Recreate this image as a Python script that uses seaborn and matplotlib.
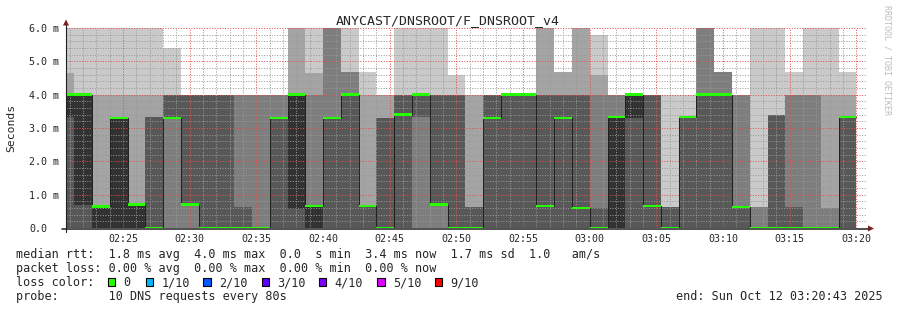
import matplotlib
matplotlib.use("Agg")
import matplotlib.pyplot as plt
import matplotlib.ticker as mticker
import matplotlib.transforms as mtransforms
from matplotlib.patches import Rectangle, Polygon
from matplotlib.lines import Line2D
import numpy as np
import pandas as pd
import seaborn as sns

# ---------------- data ----------------
title = "ANYCAST/DNSROOT/F_DNSROOT_v4"
y_label = "Seconds"
watermark = "RRDTOOL / TOBI OETIKER"

step_seconds = 80
first_step = "02:20:00"
view_start = "02:20:43"
view_end = "03:20:43"

# ranked ping times (ms) per 80 s step, p01 = fastest ... p10 = slowest
p01 = [0, 0, 0, 0, 0, 0, 0, 0, 0, 0, 0, 0, 0, 0, 0, 0, 0, 0, 0, 0, 0, 0, 0, 0, 0, 0, 0, 0, 0, 0,
       0, 0, 0, 0, 0, 0, 0, 0, 0, 0, 0, 0, 0, 0, 0]
p02 = [0, 0, 0, 0, 0, 0, 0, 0, 0, 0, 0, 0, 0, 0, 0, 0, 0, 0, 0, 0, 0, 0, 0, 0, 0, 0, 0, 0, 0, 0,
       0, 0, 0, 0, 0, 0, 0, 0, 0, 0, 0, 0, 0, 0, 0]
p03 = [0, 0, 0, 0, 0, 0, 0, 0, 0, 0, 0, 0, 0, 0, 0, 0, 0, 0, 0, 0, 0, 0, 0, 0, 0, 0, 0, 0, 0, 0,
       0, 0, 0, 0, 0, 0, 0, 0, 0, 0, 0, 0, 0, 0, 0]
p04 = [0, 0, 0, 0, 0, 0, 3.3, 0.7, 0, 0, 0, 0, 0, 0, 0, 0, 0, 0, 0, 0, 3.33, 0.7, 0, 0, 0, 0, 0, 0, 0, 0,
       0, 0, 0, 0, 0, 0, 0, 0, 0, 0, 0, 0, 0, 0, 0]
p05 = [3.33, 0.7, 0, 0, 0, 0, 3.3, 0.7, 0, 0, 0, 0, 3.3, 0.58, 0, 3.3, 4.0, 0.66, 0, 3.4,
       4.0, 0.7, 0, 0, 3.3, 4.0, 4.0, 0.66, 3.3, 0.6, 0, 0, 3.3, 0.66, 0, 3.33, 4.0, 4.0, 0.63, 0,
       0, 0, 0, 0, 3.33]
p06 = [4.0, 4.0, 0.65, 3.3, 0.7, 0, 3.3, 0.7, 0, 0, 0, 0, 3.3, 4.0, 0.66, 3.3, 4.0, 0.66, 0, 3.4,
       4.0, 0.7, 0, 0, 3.3, 4.0, 4.0, 0.66, 3.3, 0.6, 0, 3.33, 4.0, 0.66, 0, 3.33, 4.0, 4.0, 0.63, 0,
       0, 0, 0, 0, 3.33]
p07 = [4.0, 4.0, 0.65, 3.3, 0.7, 3.33, 4.0, 4.0, 4.0, 4.0, 0.63, 0, 3.3, 4.0, 0.66, 3.3, 4.0, 0.66, 3.3, 4.0,
       4.0, 4.0, 4.0, 0.63, 4.0, 4.0, 4.0, 4.0, 4.0, 4.0, 0.6, 3.33, 4.0, 4.0, 0.63, 3.33, 4.0, 4.0, 0.63, 0,
       3.4, 0.63, 0, 0, 3.33]
p08 = [4.0, 4.0, 0.65, 3.3, 0.7, 3.33, 4.0, 4.0, 4.0, 4.0, 4.0, 4.0, 4.0, 4.0, 4.0, 6.0, 4.67, 0.66, 3.3, 4.0,
       4.0, 4.0, 4.0, 0.63, 4.0, 4.0, 4.0, 4.0, 4.0, 4.0, 4.0, 4.0, 4.0, 4.0, 0.63, 3.33, 6.0, 4.67, 4.0, 0.63,
       3.4, 4.0, 4.0, 0.6, 3.33]
p09 = [4.65, 4.0, 4.0, 4.0, 4.0, 4.0, 4.0, 4.0, 4.0, 4.0, 4.0, 4.0, 4.0, 6.0, 4.65, 6.0, 4.67, 4.0, 4.0, 4.0,
       4.0, 4.0, 4.0, 4.0, 4.0, 4.0, 4.0, 6.0, 4.68, 6.0, 4.6, 4.0, 4.0, 4.0, 0.63, 3.33, 6.0, 4.67, 4.0, 0.63,
       3.4, 4.0, 4.0, 4.0, 4.0]
p10 = [6.0, 6.0, 6.0, 6.0, 6.0, 6.0, 5.4, 4.0, 4.0, 4.0, 4.0, 4.0, 4.0, 6.0, 6.0, 6.0, 6.0, 4.67, 4.0, 6.0,
       6.0, 6.0, 4.6, 4.0, 4.0, 4.0, 4.0, 6.0, 4.68, 6.0, 5.78, 4.0, 4.0, 4.0, 4.0, 4.0, 6.0, 4.67, 4.0, 6.0,
       6.0, 4.67, 6.0, 6.0, 4.67]
median_rank = 6  # smokeping median = p06

y_ticks = [0, 1, 2, 3, 4, 5, 6]
y_tick_labels = ["0.0", "1.0 m", "2.0 m", "3.0 m", "4.0 m", "5.0 m", "6.0 m"]
x_tick_times = ["02:25", "02:30", "02:35", "02:40", "02:45", "02:50", "02:55",
                "03:00", "03:05", "03:10", "03:15", "03:20"]

stats_line1 = "median rtt:  1.8 ms avg  4.0 ms max  0.0  s min  3.4 ms now  1.7 ms sd  1.0   am/s"
stats_line2 = "packet loss: 0.00 % avg  0.00 % max  0.00 % min  0.00 % now"
loss_title = "loss color:"
loss_labels = ["0", "1/10", "2/10", "3/10", "4/10", "5/10", "9/10"]
loss_colors = ["#26ff00", "#00b8ff", "#0059ff", "#5e00ff", "#7e00ff", "#dd00ff", "#ff0000"]
probe_line = "probe:       10 DNS requests every 80s"
end_line = "end: Sun Oct 12 03:20:43 2025"

# ---------------- helpers ----------------
def hms(s):
    parts = [int(v) for v in s.split(":")]
    while len(parts) < 3:
        parts.append(0)
    return parts[0] * 3600 + parts[1] * 60 + parts[2]

W, H, DPI = 897, 310, 100
sns.set_style("white")
plt.rcParams["font.family"] = ["DejaVu Sans Mono", "DejaVu Sans"]

fig = plt.figure(figsize=(W / DPI, H / DPI), dpi=DPI)
fig.patch.set_facecolor("white")
# pixel transform (origin top-left)
PX = mtransforms.Affine2D().scale(1 / W, -1 / H).translate(0, 1) + fig.transFigure

ax_l, ax_r, ax_t, ax_b = 66, 866, 28, 228
ax = fig.add_axes([ax_l / W, (H - ax_b) / H, (ax_r - ax_l) / W, (ax_b - ax_t) / H])
ax.set_facecolor("white")

P = np.array([p01, p02, p03, p04, p05, p06, p07, p08, p09, p10], dtype=float)
n = P.shape[1]
edges = hms(first_step) + step_seconds * np.arange(n + 1)

# smoke: nested bands between rank i and rank (11-i)
half = 5
for i in range(1, half + 1):
    shade = int(190 / half * (half - i)) + 50
    col = (shade / 255,) * 3
    ax.stairs(P[10 - i], edges, baseline=P[i - 1], fill=True, color=col, lw=0, zorder=1)

med = P[median_rank - 1]
df = pd.DataFrame({"t": edges, "median": np.append(med, med[-1])})
sns.lineplot(data=df, x="t", y="median", drawstyle="steps-post", color="#202020",
             lw=0.7, ax=ax, zorder=3, estimator=None, legend=False)

w = 6.0 / 200 * 1.3
ax.stairs(med + w, edges, baseline=med - w, fill=True, color="#26ff00", lw=0, zorder=4)

ax.set_xlim(hms(view_start), hms(view_end))
ax.set_ylim(0, 6.0)

ax.set_xticks([hms(t) for t in x_tick_times])
ax.set_xticklabels(x_tick_times)
ax.xaxis.set_minor_locator(mticker.MultipleLocator(60))
ax.set_yticks(y_ticks)
ax.set_yticklabels(y_tick_labels)
ax.yaxis.set_minor_locator(mticker.MultipleLocator(0.2))

ax.set_axisbelow(False)
ax.grid(which="minor", color=(0.6, 0.6, 0.6, 0.4), lw=0.72, ls=(0, (1, 1.6)))
ax.grid(which="major", color=(0.9, 0.3, 0.3, 0.4), lw=0.72, ls=(0, (1, 1.6)))

for s in ax.spines.values():
    s.set_visible(False)

ax.tick_params(axis="x", which="major", direction="out", length=2, width=0.7,
               color="#202020", labelsize=7.2, pad=2.5)
ax.tick_params(axis="x", which="minor", direction="out", length=1.4, width=0.7, color="#202020")
ax.tick_params(axis="y", which="major", direction="out", length=2, width=0.7,
               color="#202020", labelsize=7.2, pad=24.3)
ax.tick_params(axis="y", which="minor", direction="out", length=1.4, width=0.7, color="#202020")
for lab in ax.get_yticklabels():
    lab.set_horizontalalignment("left")
ax.set_xlabel("")
ax.set_ylabel("")

# axes lines and arrows (pixel coords)
axis_col = (0.12, 0.12, 0.12)
arrow_col = (0.5, 0.12, 0.12)
fig.add_artist(Line2D([62, 868], [228.5, 228.5], transform=PX, color=axis_col, lw=1.1))
fig.add_artist(Line2D([66, 66], [232, 25], transform=PX, color=axis_col, lw=0.8))
fig.add_artist(Polygon([[868, 225.5], [868, 231.5], [874, 228.5]], closed=True,
                       transform=PX, color=arrow_col, lw=0))
fig.add_artist(Polygon([[63, 25.5], [69, 25.5], [66, 19.5]], closed=True,
                       transform=PX, color=arrow_col, lw=0))

# texts
fig.text(448, 24, title, transform=PX, ha="center", va="baseline", fontsize=9.5)
fig.text(11, 128, y_label, transform=PX, ha="center", va="center", rotation=90, fontsize=8.2)
fig.text(887.5, 60, watermark, transform=PX, ha="center", va="center", rotation=270,
         fontsize=6, color="#bdbdbd")

fs = 8.5
fig.text(16, 258, stats_line1, transform=PX, ha="left", va="baseline", fontsize=fs)
fig.text(16, 272, stats_line2, transform=PX, ha="left", va="baseline", fontsize=fs)
fig.text(16, 286, loss_title, transform=PX, ha="left", va="baseline", fontsize=fs)
box_x = [107.7, 145.7, 203.3, 261.7, 318.5, 377.3, 435.0]
for bx, lab, c in zip(box_x, loss_labels, loss_colors):
    fig.add_artist(Rectangle((bx, 277.5), 7.3, 8.2, transform=PX, facecolor=c,
                             edgecolor="black", lw=0.8))
    fig.text(bx + 15.6, 286, lab, transform=PX, ha="left", va="baseline", fontsize=fs)
fig.text(16, 300, probe_line, transform=PX, ha="left", va="baseline", fontsize=fs)
fig.text(883, 300, end_line, transform=PX, ha="right", va="baseline", fontsize=fs)

fig.savefig("out.png", dpi=DPI, facecolor="white")
